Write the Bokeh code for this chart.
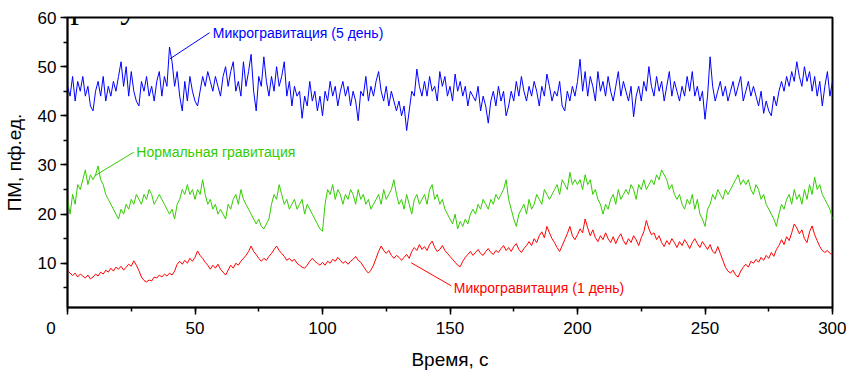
from bokeh.plotting import figure
from bokeh.models import Range1d, SingleIntervalTicker, Label
from bokeh.embed import file_html
from bokeh.resources import INLINE

# ---- data (1 sample per second) ----
time_s = list(range(0, 301))

micro_5day = [
    46, 44, 48, 43, 47, 45, 48, 44, 46, 42,
    41, 45, 47, 44, 48, 43, 46, 44, 47, 45,
    48, 51, 46, 50, 44, 49, 45, 43, 42, 47,
    45, 48, 44, 46, 43, 47, 49, 44, 48, 46,
    54, 51, 46, 49, 44, 41, 47, 43, 48, 45,
    43, 42, 45, 48, 46, 49, 47, 45, 48, 46,
    44, 48, 50, 46, 49, 51, 45, 47, 44, 51,
    46, 49, 52.5, 45, 41, 48, 46, 52, 47, 44,
    48, 45, 50, 46, 48, 51, 44, 47, 42, 46,
    44, 45, 39.5, 44, 42, 47, 43, 45, 41, 44,
    40, 45, 43, 47, 44, 46, 42, 45, 47, 44,
    46, 42, 45, 43, 39, 45, 44, 48, 43, 46,
    44, 47, 49, 45, 43, 46, 42, 45, 43, 41,
    43, 40, 42, 37, 41, 45, 44, 49.5, 46, 44,
    47, 44, 48, 45, 46, 43, 49, 46, 48, 44,
    46, 43, 48.5, 45, 47, 44, 46, 42, 45, 44,
    43, 46, 41, 44, 42, 38.5, 43, 45, 42, 46,
    43, 45, 40, 42, 45, 43, 47, 44, 48, 45,
    43, 46, 44, 47, 45, 42, 46, 44, 48.5, 46,
    43, 45, 44, 47, 42, 41, 45, 43, 46, 44,
    47, 51.5, 45, 49, 44, 48, 46, 43, 49, 45,
    47, 44, 48, 45, 43, 46, 49, 44, 47, 45,
    43, 46, 39.8, 44, 46, 43, 47, 45, 50, 46,
    44, 48, 45, 47, 43, 46, 49, 44, 47, 45,
    43, 46, 44, 48, 45, 49, 44, 46, 43, 45,
    39.3, 44, 52, 46, 43, 45, 47, 44, 46, 43,
    45, 47, 44, 46, 48, 43, 45, 47, 44, 46,
    44, 42, 45, 40.5, 43, 41, 40, 44, 42, 45,
    47, 45, 48, 46, 49, 47, 51, 48, 46, 50,
    47, 49, 45, 48, 44, 47, 42, 46, 49, 44,
    47,
]

normal_grav = [
    23, 20, 24, 22, 26, 25, 27, 29, 26, 28,
    27, 28, 29.8, 27, 26, 24, 23, 22, 21, 20,
    19, 21, 20, 22, 21, 23, 22, 24, 23, 22,
    24, 23, 25, 24, 22, 23, 24, 23, 22, 21,
    20, 21, 19, 22, 23, 25, 24, 26, 24, 25,
    23, 25, 24, 27, 24, 22, 23, 21, 22, 20,
    21, 20, 19, 22, 21, 23, 24, 22, 25, 23,
    22, 21, 20, 19, 18, 19, 17.5, 17, 18, 19,
    22, 24, 23, 26, 24, 22, 23, 21, 22, 23,
    21, 22, 23, 20, 22, 21, 20, 19, 18, 17,
    16.5, 22, 25, 24, 26, 23, 25, 24, 22, 24,
    23, 25, 24, 22, 25, 23, 24, 22, 23, 21,
    22, 23, 24, 22, 25, 23, 24, 25, 27, 24,
    22, 23, 21, 24, 22, 20, 23, 24, 22, 23,
    24, 22, 25, 26, 23, 24, 22, 23, 21, 20,
    19, 18, 20, 17, 18.5, 17.5, 19, 18, 20, 21,
    20, 22, 21, 23, 22, 21, 23, 22, 24, 23,
    24, 25, 27, 23, 21, 19, 17.5, 20, 21, 22,
    20, 23, 21, 22, 24, 23, 22, 25, 24, 23,
    24, 25, 26, 24, 27, 26, 25, 28.5, 26, 27,
    26, 27, 25, 28, 26, 27, 24, 25, 23, 22,
    20, 22, 21, 23, 24, 22, 25, 23, 24, 25,
    24, 26, 25, 23, 26, 25, 27, 25, 26, 27,
    26, 28, 27, 29, 28, 27, 25, 26, 24, 23,
    24, 22, 21, 23, 22, 24, 21, 23, 20, 19,
    17.5, 21, 22, 24, 23, 25, 24, 23, 25, 24,
    25, 26, 27, 28, 26, 27, 26, 27, 25, 24,
    26, 25, 23, 24, 22, 21, 20, 19, 17.5, 20,
    22, 21, 23, 24, 22, 25, 23, 24, 22, 25,
    23, 26, 24, 27.5, 25, 26, 24, 23, 22, 21,
    19,
]

micro_1day = [
    8.5, 8, 7.5, 8, 7.2, 7.8, 7.4, 7, 7.6, 6.8,
    7.2, 7.8, 7.4, 8.2, 7.8, 8.6, 8.2, 9, 8.4, 9.2,
    8.8, 9.4, 8.6, 9.2, 9.8, 9.4, 10.5, 9.6, 8.5, 7.2,
    6.5, 6.2, 6.6, 6.4, 7.2, 7, 7.6, 7.2, 7.8, 7.4,
    8, 7.6, 8.4, 9.8, 10.4, 9.8, 10.6, 10, 11, 10.4,
    11.2, 12.5, 11.6, 11, 10.2, 9.6, 8.8, 9.6, 9, 9.8,
    8.8, 8.2, 7.6, 8.6, 9.6, 9, 10, 9.6, 10.4, 11,
    11.6, 12.4, 13.5, 12.4, 11.8, 11, 10.4, 11, 10.6, 11.4,
    12, 12.8, 13.5, 12.6, 12, 11.4, 10.6, 11, 10.4, 10.8,
    10, 9.6, 9.2, 9, 9.6, 10.4, 11, 10.4, 10, 9.6,
    10.2, 9.6, 10.4, 10, 10.8, 10.4, 11.2, 10.6, 10, 10.4,
    9.8, 10.4, 10.8, 11.4, 10.6, 10.2, 9.4, 8.6, 8, 8.6,
    9.6, 11, 12.4, 13.5, 12.6, 12, 12.6, 11.6, 11, 11.6,
    11.2, 10.6, 11.2, 11.8, 11, 12.4, 13.2, 12.6, 13.8, 12.8,
    13.4, 12.6, 13.8, 14.5, 13.2, 12.4, 12.8, 13.6, 12.6, 12,
    11.4, 10.8, 10.2, 9.6, 9.3, 10.4, 11.2, 11.8, 12.4, 11.6,
    12.2, 12.8, 12, 11.6, 12.4, 13, 12.2, 11.8, 12.6, 12.2,
    13, 13.6, 12.6, 13.2, 12.4, 13.4, 14, 12.8, 12.2, 13,
    13.6, 14.4, 13.6, 15, 14.2, 15.6, 16.4, 15.2, 17.5, 16.2,
    15, 14.2, 13.2, 12.4, 13.6, 14.8, 16, 17.5, 15.6, 14.8,
    15.8, 17, 16.2, 19, 17.2, 15.6, 16.8, 15.2, 14.4, 15.6,
    14.8, 16.2, 15, 14.2, 15.4, 14, 15.2, 16, 14.6, 13.8,
    15, 14.2, 15.6, 14.8, 13.6, 15.2, 16.4, 18.7, 17, 15.8,
    16.2, 14.8, 15.6, 14.2, 13.4, 14.6, 13.8, 15, 14.2, 13.2,
    14.4, 13.6, 14.8, 14, 13, 14.2, 15, 14, 13.2, 14.4,
    13.6, 12.8, 13.8, 12.4, 12, 13.4, 12, 10.6, 9.2, 8.4,
    8, 8.6, 7.6, 7.2, 8.4, 9.2, 9.8, 9.2, 10.4, 10,
    10.8, 10.2, 11.2, 10.6, 11.6, 11, 12.2, 11.4, 12.8, 13.6,
    14.8, 13.8, 15.4, 14.6, 16.2, 18, 17.2, 16, 16.8, 15,
    14.2, 16.4, 17.6, 15.8, 14.6, 13.4, 12.6, 12.2, 12.6, 12,
    11.8,
]

series_names = ["Микрогравитация (5 день)", "Нормальная гравитация", "Микрогравитация (1 день)"]
x_label = "Время, с"
y_label = "ПМ, пф.ед."
caption_text = "рисунке 3."

# ---- styles ----
BLUE = "#0000FF"
GREEN = "#33CC00"
RED = "#FF0000"
FONT = "Liberation Sans"

p = figure(width=846, height=372, output_backend="svg", toolbar_location=None,
           x_range=Range1d(0, 300), y_range=Range1d(1, 60),
           min_border_left=67, min_border_right=14, min_border_top=17, min_border_bottom=62)
p.background_fill_color = "white"
p.border_fill_color = "white"
p.outline_line_color = "black"
p.outline_line_width = 2
p.xgrid.visible = False
p.ygrid.visible = False

n = min(len(time_s), len(micro_5day), len(normal_grav), len(micro_1day))
t = time_s[:n]
p.line(t, micro_5day[:n], line_color=BLUE, line_width=1)
p.line(t, normal_grav[:n], line_color=GREEN, line_width=1)
p.line(t, micro_1day[:n], line_color=RED, line_width=1)

# axes
p.xaxis.ticker = SingleIntervalTicker(interval=50, num_minor_ticks=2)
p.yaxis.ticker = SingleIntervalTicker(interval=10, num_minor_ticks=2)
# the "0" label sits left of its tick in the original: pad it with no-break spaces
p.xaxis.major_label_overrides = {0: "0" + "\u00a0" * 7}
for ax in (p.xaxis[0], p.yaxis[0]):
    ax.axis_line_color = "black"
    ax.axis_line_width = 1.5
    ax.major_tick_in = 0
    ax.major_tick_out = 7
    ax.minor_tick_in = 0
    ax.minor_tick_out = 4
    ax.major_tick_line_width = 1.5
    ax.minor_tick_line_width = 1.5
    ax.major_label_text_font = FONT
    ax.major_label_text_font_size = "17px"
    ax.major_label_text_color = "black"
    ax.axis_label_text_font = FONT
    ax.axis_label_text_font_size = "19px"
    ax.axis_label_text_font_style = "normal"
    ax.axis_label_text_color = "black"
p.xaxis.axis_label = x_label
p.yaxis.axis_label = y_label
p.xaxis.major_label_standoff = 4
p.xaxis.axis_label_standoff = 8
p.yaxis.major_label_standoff = 4
p.yaxis.axis_label_standoff = 10

# annotations with leader lines
p.line([40.2, 55.7], [51.6, 56.9], line_color=BLUE, line_width=1)
p.add_layout(Label(x=57.0, y=56.8, text=series_names[0], text_align="left",
                   text_baseline="middle", text_font=FONT, text_font_size="14px",
                   text_color=BLUE))
p.line([10.7, 26.0], [27.8, 32.6], line_color=GREEN, line_width=1)
p.add_layout(Label(x=27.0, y=32.6, text=series_names[1], text_align="left",
                   text_baseline="middle", text_font=FONT, text_font_size="14px",
                   text_color=GREEN))
p.line([134.8, 150.5], [10.1, 5.4], line_color=RED, line_width=1)
p.add_layout(Label(x=151.5, y=4.9, text=series_names[2], text_align="left",
                   text_baseline="middle", text_font=FONT, text_font_size="14px",
                   text_color=RED))

# cropped caption text from the source document (top-left, cut by the image edge)
p.add_layout(Label(x=70, y=6, x_units="canvas", y_units="canvas", text=caption_text,
                   text_align="left", text_baseline="alphabetic", level="overlay",
                   text_font="Liberation Serif", text_font_size="34px",
                   text_color="black"))

open("out.html", "w").write(file_html(p, INLINE))
